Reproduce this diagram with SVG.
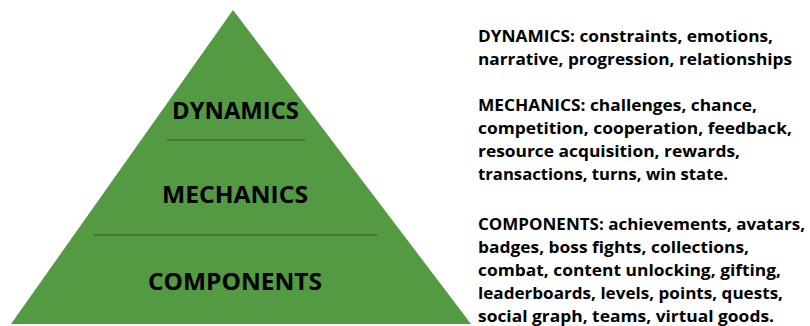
<svg xmlns="http://www.w3.org/2000/svg" width="810" height="326" viewBox="0 0 810 326">
  <style>
    .lvl { font-family: "Open Sans", "Liberation Sans", sans-serif; font-weight: 700; font-size: 23.5px; fill: #000; text-anchor: middle; }
    .desc { font-family: "Open Sans", "Liberation Sans", sans-serif; font-weight: 700; font-size: 16.5px; fill: #000; }
    .sep { stroke: #3f6a36; stroke-width: 1.5; }
  </style>
  <rect width="810" height="326" fill="#fff"/>
  <g id="pyramid">
    <polygon points="233,10 11,324 471,324" fill="#539a42"/>
    <line class="sep" x1="167" y1="140" x2="305" y2="140"/>
    <line class="sep" x1="94" y1="235" x2="377" y2="235"/>
  </g>
  <g id="dynamics">
    <text class="lvl" x="235.5" y="118.5" textLength="127" lengthAdjust="spacingAndGlyphs">DYNAMICS</text>
  </g>
  <g id="mechanics">
    <text class="lvl" x="235" y="202.5" textLength="146" lengthAdjust="spacingAndGlyphs">MECHANICS</text>
  </g>
  <g id="components">
    <text class="lvl" x="235" y="289.5" textLength="174" lengthAdjust="spacingAndGlyphs">COMPONENTS</text>
  </g>
  <g id="descriptions">
    <text class="desc" x="478" y="42" textLength="295" lengthAdjust="spacingAndGlyphs">DYNAMICS: constraints, emotions,</text>
    <text class="desc" x="478" y="65" textLength="314" lengthAdjust="spacingAndGlyphs">narrative, progression, relationships</text>
    <text class="desc" x="478" y="111" textLength="279" lengthAdjust="spacingAndGlyphs">MECHANICS: challenges, chance,</text>
    <text class="desc" x="478" y="134" textLength="314" lengthAdjust="spacingAndGlyphs">competition, cooperation, feedback,</text>
    <text class="desc" x="478" y="157" textLength="262" lengthAdjust="spacingAndGlyphs">resource acquisition, rewards,</text>
    <text class="desc" x="478" y="180" textLength="250" lengthAdjust="spacingAndGlyphs">transactions, turns, win state.</text>
    <text class="desc" x="478" y="230" textLength="327" lengthAdjust="spacingAndGlyphs">COMPONENTS: achievements, avatars,</text>
    <text class="desc" x="478" y="253" textLength="271" lengthAdjust="spacingAndGlyphs">badges, boss fights, collections,</text>
    <text class="desc" x="478" y="276" textLength="303" lengthAdjust="spacingAndGlyphs">combat, content unlocking, gifting,</text>
    <text class="desc" x="478" y="299" textLength="305" lengthAdjust="spacingAndGlyphs">leaderboards, levels, points, quests,</text>
    <text class="desc" x="478" y="322" textLength="296" lengthAdjust="spacingAndGlyphs">social graph, teams, virtual goods.</text>
  </g>
</svg>
